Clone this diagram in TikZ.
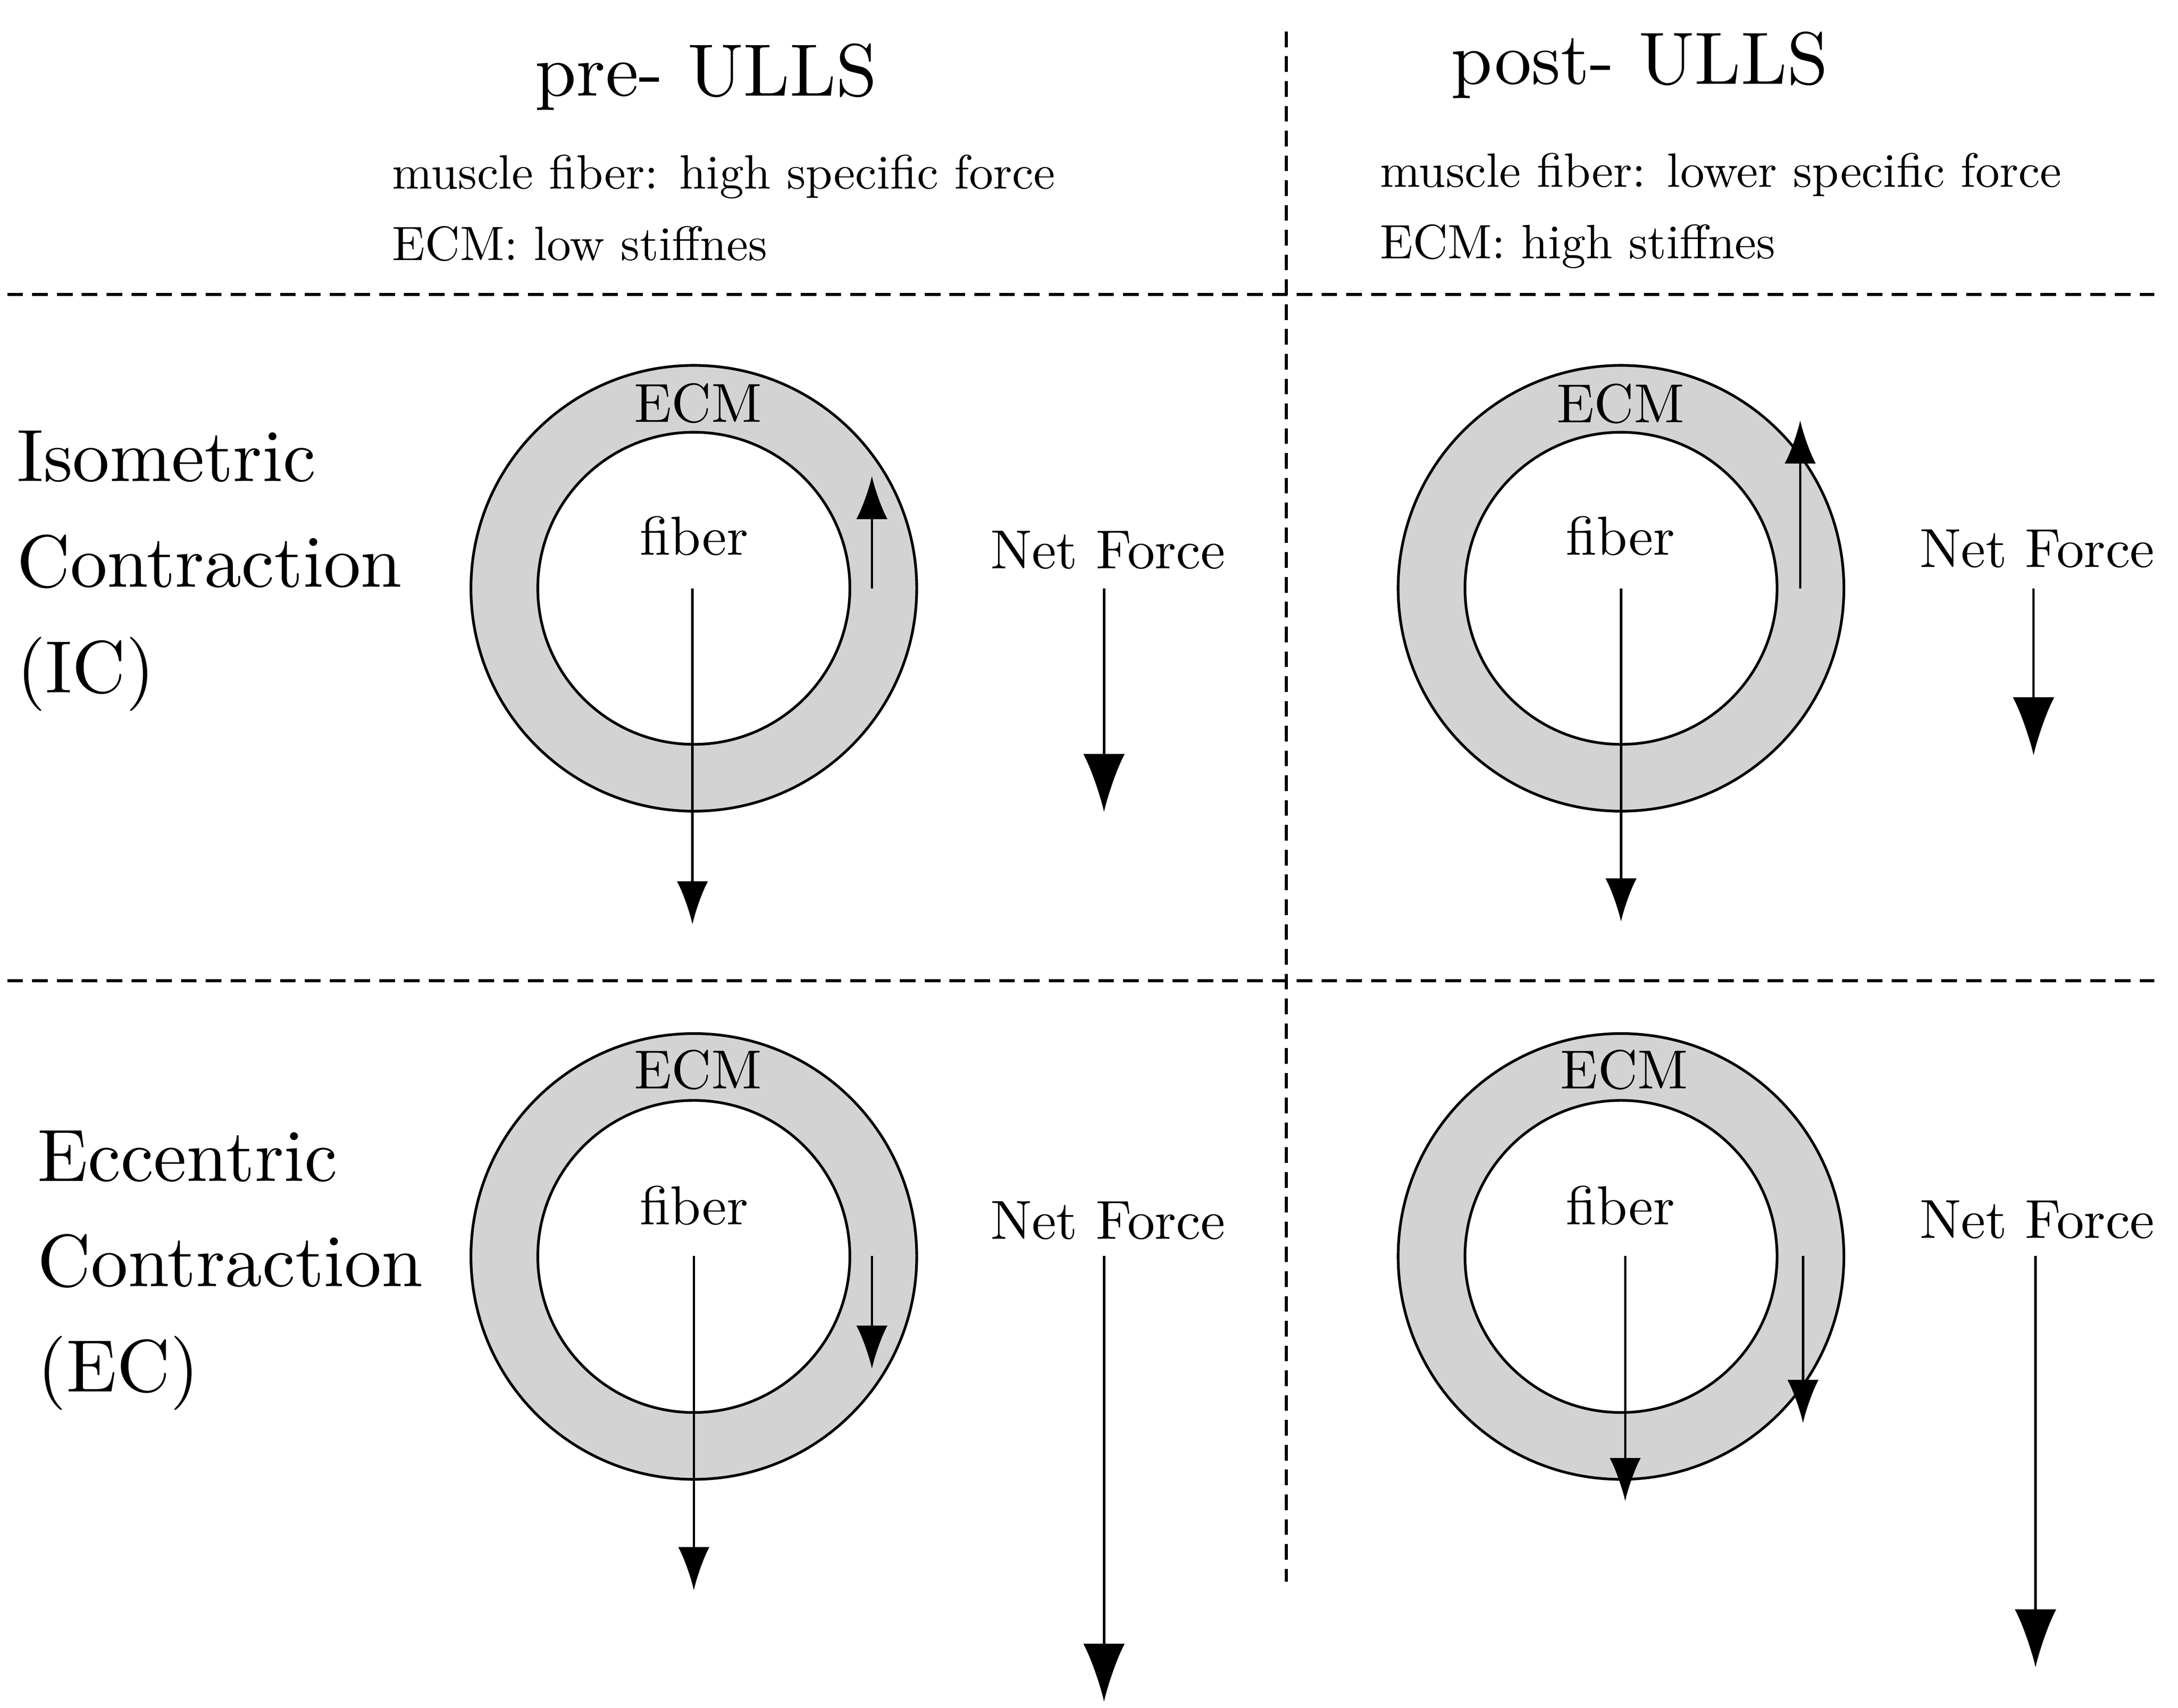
\documentclass[tikz,border=0pt]{standalone}
\usetikzlibrary{arrows.meta}
\definecolor{ecmgray}{RGB}{211,211,211}
\tikzset{
  bigtext/.style={font=\fontsize{10}{12}\selectfont, scale=1.375, inner sep=0pt},
  hdrtext/.style={font=\fontsize{10}{12}\selectfont, scale=0.895, anchor=base west, inner sep=0pt},
  ringtext/.style={font=\fontsize{10}{12}\selectfont, scale=1.02, anchor=base, inner sep=0pt},
  ecmring/.style={circle, draw, line width=0.5pt, fill=ecmgray, minimum size=82.7pt, inner sep=0pt},
  fibercore/.style={circle, draw, line width=0.5pt, fill=white, minimum size=57.9pt, inner sep=0pt},
  force/.style={line width=0.45pt, -{Latex[length=8pt,width=5.8pt]}},
  netforce/.style={line width=0.45pt, -{Latex[length=10.75pt,width=7.7pt]}},
  divider/.style={line width=0.6pt, dash pattern=on 2.9pt off 1.7pt},
}
\begin{document}
\begin{tikzpicture}[x=0.2577pt, y=-0.2577pt]
\useasboundingbox (0,0) rectangle (1568,1229.4);

% dividers
\coordinate (vtop) at (926.1,22.7);
\coordinate (vbot) at (926.1,1138.8);
\coordinate (h1l) at (5.3,212);
\coordinate (h1r) at (1551,212);
\coordinate (h2l) at (5.3,706);
\coordinate (h2r) at (1551,706);
\draw[divider] (vtop) -- (vbot);
\draw[divider] (h1l) -- (h1r);
\draw[divider] (h2l) -- (h2r);

% column headers
\node[bigtext, anchor=base] (pre) at (508.5,69) {pre- ULLS};
\node[bigtext, anchor=base] (post) at (1180.5,60.6) {post- ULLS};
\node[hdrtext] (preA) at (281.8,136) {muscle fiber: high specific force};
\node[hdrtext] (preB) at (281.8,187.4) {ECM: low stiffnes};
\node[hdrtext] (postA) at (992.8,134.6) {muscle fiber: lower specific force};
\node[hdrtext] (postB) at (992.8,186) {ECM: high stiffnes};

% row labels
\node[bigtext, anchor=base west] (icA) at (11,346.5) {Isometric};
\node[bigtext, anchor=base west] (icB) at (11,422.6) {Contraction};
\node[bigtext, anchor=base west] (icC) at (11,498.6) {(IC)};
\node[bigtext, anchor=base west] (ecA) at (26,850.4) {Eccentric};
\node[bigtext, anchor=base west] (ecB) at (26,926.1) {Contraction};
\node[bigtext, anchor=base west] (ecC) at (26,1001.9) {(EC)};

% ---------- top left ----------
\node[ecmring] (oTL) at (499.5,423.5) {};
\node[fibercore] (iTL) at (499.5,423.5) {};
\node[ringtext] (ecmTL) at (502.5,303.8) {ECM};
\node[ringtext] (fibTL) at (499.7,399.6) {fiber};
\node[ringtext] (netTL) at (797.6,409.4) {Net Force};
\coordinate (fTLs) at (498.5,423.5);
\coordinate (fTLe) at (498.5,665.4);
\coordinate (eTLs) at (627.7,423.5);
\coordinate (eTLe) at (627.7,342.7);
\coordinate (nTLs) at (794.8,423.5);
\coordinate (nTLe) at (794.8,584.5);
\draw[force] (fTLs) -- (fTLe);
\draw[force] (eTLs) -- (eTLe);
\draw[netforce] (nTLs) -- (nTLe);

% ---------- top right ----------
\node[ecmring] (oTR) at (1167,423.5) {};
\node[fibercore] (iTR) at (1167,423.5) {};
\node[ringtext] (ecmTR) at (1166.7,304.3) {ECM};
\node[ringtext] (fibTR) at (1166.7,399.6) {fiber};
\node[ringtext] (netTR) at (1466.6,408.4) {Net Force};
\coordinate (fTRs) at (1167,423.5);
\coordinate (fTRe) at (1167,663.4);
\coordinate (eTRs) at (1296,423.5);
\coordinate (eTRe) at (1296,302.7);
\coordinate (nTRs) at (1464,423.5);
\coordinate (nTRe) at (1464,543.7);
\draw[force] (fTRs) -- (fTRe);
\draw[force] (eTRs) -- (eTRe);
\draw[netforce] (nTRs) -- (nTRe);

% ---------- bottom left ----------
\node[ecmring] (oBL) at (499.5,904.5) {};
\node[fibercore] (iBL) at (499.5,904.5) {};
\node[ringtext] (ecmBL) at (502.5,783.8) {ECM};
\node[ringtext] (fibBL) at (499.7,881.6) {fiber};
\node[ringtext] (netBL) at (797.6,891.9) {Net Force};
\coordinate (fBLs) at (499.5,904);
\coordinate (fBLe) at (499.5,1144.8);
\coordinate (eBLs) at (627.7,904);
\coordinate (eBLe) at (627.7,985.3);
\coordinate (nBLs) at (794.8,904);
\coordinate (nBLe) at (794.8,1225);
\draw[force] (fBLs) -- (fBLe);
\draw[force] (eBLs) -- (eBLe);
\draw[netforce] (nBLs) -- (nBLe);

% ---------- bottom right ----------
\node[ecmring] (oBR) at (1167,904.5) {};
\node[fibercore] (iBR) at (1167,904.5) {};
\node[ringtext] (ecmBR) at (1169.4,783.8) {ECM};
\node[ringtext] (fibBR) at (1166.7,881.6) {fiber};
\node[ringtext] (netBR) at (1466.6,891.3) {Net Force};
\coordinate (fBRs) at (1170,904);
\coordinate (fBRe) at (1170,1080.6);
\coordinate (eBRs) at (1298,904);
\coordinate (eBRe) at (1298,1024.4);
\coordinate (nBRs) at (1465.4,904);
\coordinate (nBRe) at (1465.4,1200.3);
\draw[force] (fBRs) -- (fBRe);
\draw[force] (eBRs) -- (eBRe);
\draw[netforce] (nBRs) -- (nBRe);
\end{tikzpicture}
\end{document}
